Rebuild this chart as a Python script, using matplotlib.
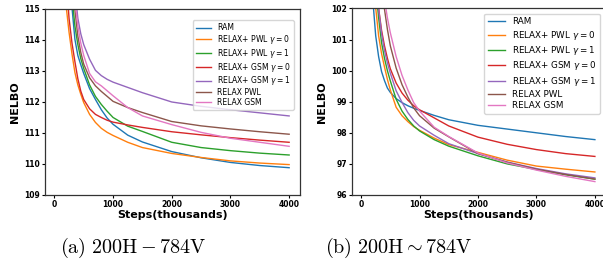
import matplotlib
matplotlib.use("Agg")
import matplotlib.pyplot as plt

# x positions (thousands of steps) shared by all series
steps = [100, 150, 200, 250, 300, 350, 400, 450, 500, 600, 700, 800, 900,
         1000, 1250, 1500, 2000, 2500, 3000, 3500, 4000]

labels = ["RAM", r"RELAX+ PWL $\gamma = 0$", r"RELAX+ PWL $\gamma = 1$",
          r"RELAX+ GSM $\gamma = 0$", r"RELAX+ GSM $\gamma = 1$",
          "RELAX PWL", "RELAX GSM"]
colors = ["#1f77b4", "#ff7f0e", "#2ca02c", "#d62728", "#9467bd",
          "#8c564b", "#e377c2"]

# (a) 200H - 784V
a_ram = [121.0, 119.0, 117.3, 116.0, 115.05, 114.02, 113.5, 113.2, 112.92,
         112.43, 112.08, 111.75, 111.48, 111.28, 110.93, 110.71, 110.4,
         110.2, 110.05, 109.95, 109.88]
a_pwl0 = [119.5, 117.0, 115.1, 114.25, 113.55, 112.95, 112.55, 112.25, 111.98,
          111.6, 111.34, 111.15, 111.02, 110.92, 110.7, 110.53, 110.34,
          110.21, 110.1, 110.03, 109.98]
a_pwl1 = [122.0, 120.0, 118.3, 116.8, 115.4, 114.45, 113.85, 113.4, 113.08,
          112.55, 112.18, 111.92, 111.7, 111.5, 111.22, 111.05, 110.7,
          110.53, 110.43, 110.35, 110.29]
a_gsm0 = [120.0, 118.0, 116.0, 114.7, 113.9, 113.3, 112.75, 112.35, 112.08,
          111.78, 111.6, 111.5, 111.41, 111.35, 111.26, 111.18, 111.04,
          110.94, 110.85, 110.77, 110.70]
a_gsm1 = [124.0, 122.5, 121.0, 119.5, 117.8, 115.6, 114.7, 114.2, 113.85,
          113.38, 113.02, 112.85, 112.73, 112.64, 112.47, 112.3, 112.0,
          111.86, 111.75, 111.65, 111.55]
a_relax_pwl = [123.0, 121.5, 119.8, 118.0, 116.3, 114.97, 114.12, 113.6, 113.22,
               112.78, 112.52, 112.34, 112.18, 112.02, 111.82, 111.66, 111.37,
               111.23, 111.13, 111.04, 110.96]
a_relax_gsm = [123.5, 122.0, 120.5, 118.8, 117.0, 115.3, 114.45, 113.9, 113.5,
               112.92, 112.65, 112.52, 112.36, 112.2, 111.82, 111.55, 111.27,
               111.02, 110.83, 110.7, 110.57]

# (b) 200H ~ 784V
b_ram = [106.0, 104.0, 102.3, 101.12, 100.45, 99.97, 99.68, 99.44, 99.3,
         99.1, 98.97, 98.87, 98.79, 98.72, 98.56, 98.42, 98.24, 98.12,
         98.0, 97.88, 97.78]
b_pwl0 = [107.0, 105.0, 103.3, 102.02, 101.12, 100.55, 100.12, 99.72, 99.38,
          98.82, 98.55, 98.36, 98.2, 98.08, 97.83, 97.62, 97.37, 97.12,
          96.93, 96.83, 96.74]
b_pwl1 = [108.0, 106.0, 104.2, 102.7, 101.7, 100.9, 100.4, 100.0, 99.67,
          99.08, 98.7, 98.43, 98.22, 98.06, 97.78, 97.57, 97.26, 97.0,
          96.82, 96.65, 96.51]
b_gsm0 = [108.0, 106.0, 104.3, 102.9, 102.0, 101.3, 100.8, 100.4, 100.06,
          99.6, 99.28, 99.05, 98.87, 98.74, 98.48, 98.22, 97.86, 97.63,
          97.46, 97.33, 97.24]
b_gsm1 = [108.5, 106.5, 104.8, 103.1, 102.0, 101.2, 100.65, 100.25, 99.92,
          99.35, 98.98, 98.65, 98.4, 98.22, 97.92, 97.65, 97.33, 97.06,
          96.85, 96.68, 96.55]
b_relax_pwl = [112.0, 109.5, 107.3, 105.4, 103.8, 102.7, 101.98, 101.33, 100.8,
               100.08, 99.55, 99.15, 98.8, 98.55, 98.15, 97.87, 97.33, 97.05,
               96.83, 96.66, 96.51]
b_relax_gsm = [113.0, 110.5, 108.3, 106.3, 104.5, 103.2, 102.3, 101.7, 101.22,
               100.45, 99.85, 99.38, 98.97, 98.7, 98.18, 97.88, 97.35, 97.03,
               96.8, 96.6, 96.43]

xticks = [0, 1000, 2000, 3000, 4000]


def draw(ax, series, ylim, legend_size, legend_spacing, legend_anchor):
    for ys, lab, col in zip(series, labels, colors):
        ax.plot(steps, ys, color=col, linewidth=1.0, label=lab)
    ax.set_xlim(-160, 4185)
    ax.set_ylim(*ylim)
    ax.set_xticks(xticks)
    ax.set_yticks(range(ylim[0], ylim[1] + 1))
    ax.tick_params(length=2, width=0.8, pad=1.5, labelsize=5.5)
    for t in ax.get_xticklabels() + ax.get_yticklabels():
        t.set_fontweight("bold")
    for sp in ax.spines.values():
        sp.set_color("#333333")
        sp.set_linewidth(0.9)
    ax.set_xlabel("Steps(thousands)", fontsize=8, fontweight="bold", labelpad=1)
    ax.set_ylabel("NELBO", fontsize=8, fontweight="bold", labelpad=3)
    ax.legend(loc="upper right", bbox_to_anchor=legend_anchor,
              fontsize=legend_size, handlelength=2.0,
              labelspacing=legend_spacing, borderpad=0.4, fancybox=True,
              framealpha=0.8)


fig = plt.figure(figsize=(6.03, 2.65), dpi=100)
ax_a = fig.add_axes([0.0746, 0.2642, 0.4229, 0.7019])
ax_b = fig.add_axes([0.5833, 0.2642, 0.4212, 0.7040])

draw(ax_a, [a_ram, a_pwl0, a_pwl1, a_gsm0, a_gsm1, a_relax_pwl, a_relax_gsm],
     (109, 115), 5.5, 0.1, (0.99, 0.96))
draw(ax_b, [b_ram, b_pwl0, b_pwl1, b_gsm0, b_gsm1, b_relax_pwl, b_relax_gsm],
     (96, 102), 6.3, 0.27, (0.995, 0.995))

fig.text(0.2206, 0.064, r"$\mathrm{(a)\ 200H - 784V}$", math_fontfamily="cm",
         fontsize=14.5, ha="center", va="center")
fig.text(0.6617, 0.064, r"$\mathrm{(b)\ 200H \sim 784V}$", math_fontfamily="cm",
         fontsize=14.5, ha="center", va="center")

fig.savefig("out.png", dpi=100)
